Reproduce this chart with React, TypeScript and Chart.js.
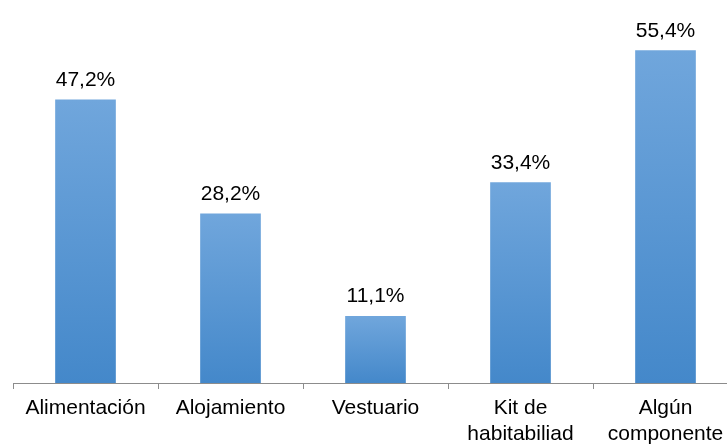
import React, { useEffect, useRef } from "react";
import { Chart, registerables } from "chart.js";

Chart.register(...registerables);

const categories: (string | string[])[] = [
  "Alimentación",
  "Alojamiento",
  "Vestuario",
  ["Kit de", "habitabiliad"],
  ["Algún", "componente"],
];
const values: number[] = [47.2, 28.2, 11.1, 33.4, 55.4];
const valueLabels: string[] = ["47,2%", "28,2%", "11,1%", "33,4%", "55,4%"];

const FONT = "'Liberation Sans', Arial, sans-serif";

const labelPlugin = {
  id: "barLabels",
  afterDatasetsDraw(chart: any) {
    const ctx = chart.ctx;
    const meta = chart.getDatasetMeta(0);
    ctx.save();
    ctx.font = `21px ${FONT}`;
    ctx.fillStyle = "#000000";
    ctx.textAlign = "center";
    ctx.textBaseline = "alphabetic";
    meta.data.forEach((bar: any, i: number) => {
      ctx.fillText(valueLabels[i], bar.x, bar.y - 14);
    });
    ctx.restore();
  },
};

export default function App() {
  const ref = useRef<HTMLCanvasElement | null>(null);
  useEffect(() => {
    if (!ref.current) return;
    const chart = new Chart(ref.current, {
      type: "bar",
      data: {
        labels: categories,
        datasets: [
          {
            data: values,
            backgroundColor: (c: any) => {
              const chart = c.chart;
              const area = chart.chartArea;
              const ys = chart.scales?.y;
              if (!area || !ys || c.dataIndex === undefined) return "#5a97d3";
              const v = values[c.dataIndex];
              const top = ys.getPixelForValue(v);
              const bottom = ys.getPixelForValue(0);
              const g = chart.ctx.createLinearGradient(0, top, 0, bottom);
              g.addColorStop(0, "#70a6dc");
              g.addColorStop(1, "#4488ca");
              return g;
            },
            borderWidth: 0,
            barThickness: 60,
          },
        ],
      },
      options: {
        responsive: false,
        animation: false,
        maintainAspectRatio: false,
        layout: { padding: { left: 13, right: 2, top: 23, bottom: 0 } },
        plugins: {
          legend: { display: false },
          tooltip: { enabled: false },
        },
        scales: {
          x: {
            afterFit: (s: any) => {
              s.height = 61;
            },
            grid: {
              display: true,
              drawOnChartArea: false,
              drawTicks: true,
              tickLength: 6,
              color: "#8c8c8c",
              offset: true,
            },
            border: { display: true, color: "#8c8c8c", width: 1 },
            ticks: {
              color: "#000000",
              font: { family: FONT, size: 21 },
              padding: 7,
              maxRotation: 0,
              autoSkip: false,
            },
          },
          y: {
            display: false,
            min: 0,
            max: 60,
          },
        },
      },
      plugins: [labelPlugin],
    });
    return () => chart.destroy();
  }, []);
  return (
    <div
      style={{
        position: "fixed",
        left: 0,
        top: 0,
        width: 727,
        height: 444,
        overflow: "hidden",
        background: "#ffffff",
      }}
    >
      <canvas ref={ref} width={740} height={444} style={{ width: 740, height: 444 }} />
    </div>
  );
}
